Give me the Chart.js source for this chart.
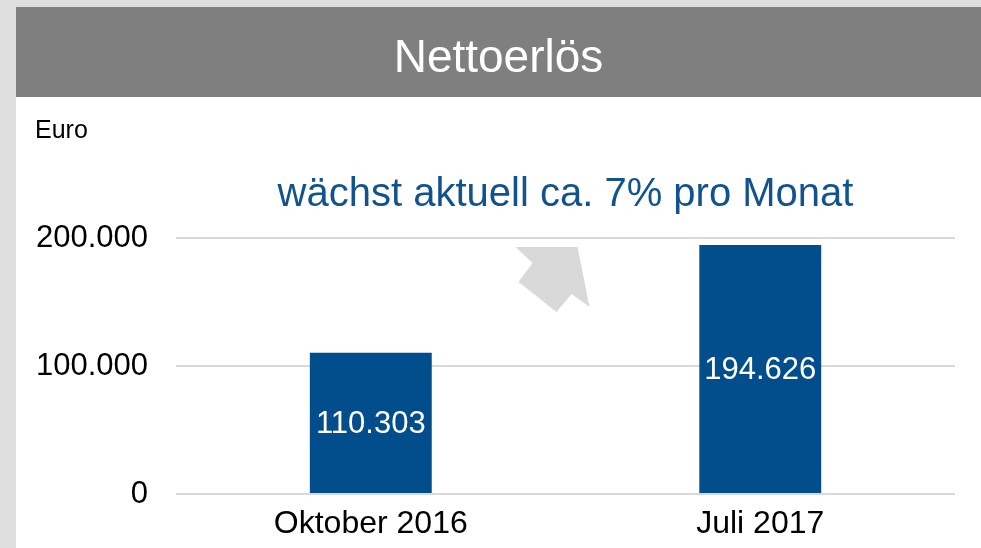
<!DOCTYPE html>
<html>
<head>
<meta charset="utf-8">
<script src="https://cdn.jsdelivr.net/npm/chart.js@4/dist/chart.umd.min.js"></script>
<style>
  html, body { margin: 0; padding: 0; background: #dedede; }
  #wrap { width: 981px; height: 548px; position: relative; }
</style>
</head>
<body>
<div id="wrap"><canvas id="c" width="981" height="548"></canvas></div>
<script>
// ---- data ----
const categories = ['Oktober 2016', 'Juli 2017'];
const revenue = [110303, 194626];
const yTicks = [0, 100000, 200000];
const TITLE = 'Nettoerlös';
const SUBTITLE = 'wächst aktuell ca. 7% pro Monat';
const UNIT = 'Euro';

const BLUE = '#024e8c';
const FONT = "'Liberation Sans', Arial, sans-serif";
const fmtDe = (v) => Math.round(v).toLocaleString('de-DE');

// frame: grey border, dark header band with title, white panel
const framePlugin = {
  id: 'frame',
  beforeDraw(chart) {
    const { ctx, width, height } = chart;
    ctx.save();
    ctx.fillStyle = '#dedede';
    ctx.fillRect(0, 0, width, height);
    ctx.fillStyle = '#ffffff';
    ctx.fillRect(16, 97, width - 16, height - 97);
    ctx.fillStyle = '#7f7f7f';
    ctx.fillRect(16, 7, width - 16, 90);
    ctx.fillStyle = '#ffffff';
    ctx.font = '46px ' + FONT;
    ctx.textAlign = 'center';
    ctx.textBaseline = 'middle';
    ctx.fillText(TITLE, (16 + width) / 2, 59);
    // unit label
    ctx.fillStyle = '#000';
    ctx.font = '25px ' + FONT;
    ctx.textAlign = 'left';
    ctx.fillText(UNIT, 35, 131);
    ctx.restore();
  },
  // growth arrow between the two bars
  beforeDatasetsDraw(chart) {
    const { ctx, scales: { x, y } } = chart;
    const mx = (x.getPixelForValue(0) + x.getPixelForValue(1)) / 2;
    const top = y.getPixelForValue(200000);
    const pts = [[-50, 9], [12, 9], [24, 69], [6, 56], [-9, 74], [-47, 44], [-33, 25]];
    ctx.save();
    ctx.fillStyle = '#d9d9d9';
    ctx.beginPath();
    pts.forEach(([dx, dy], i) => (i ? ctx.lineTo(mx + dx, top + dy) : ctx.moveTo(mx + dx, top + dy)));
    ctx.closePath();
    ctx.fill();
    ctx.restore();
  },
  // value labels inside bars
  afterDatasetsDraw(chart) {
    const { ctx } = chart;
    const meta = chart.getDatasetMeta(0);
    ctx.save();
    ctx.fillStyle = '#ffffff';
    ctx.font = '31px ' + FONT;
    ctx.textAlign = 'center';
    ctx.textBaseline = 'middle';
    meta.data.forEach((bar, i) => {
      ctx.fillText(fmtDe(revenue[i]), bar.x, (bar.y + bar.base) / 2 + 2);
    });
    ctx.restore();
  },
};

new Chart(document.getElementById('c'), {
  type: 'bar',
  data: {
    labels: categories,
    datasets: [{ data: revenue, backgroundColor: BLUE, categoryPercentage: 0.313, barPercentage: 1 }],
  },
  options: {
    responsive: false,
    animation: false,
    layout: { padding: { left: 8, right: 26, top: 0, bottom: -6 } },
    plugins: {
      legend: { display: false },
      tooltip: { enabled: false },
      title: { display: false },
      subtitle: {
        display: true, text: SUBTITLE, color: '#11528f', fullSize: false,
        font: { family: FONT, size: 40, weight: 'normal' },
        padding: { top: 171, bottom: 19 },
      },
    },
    scales: {
      x: {
        grid: { display: false, drawTicks: false },
        border: { display: false },
        ticks: { color: '#000', font: { family: FONT, size: 32, lineHeight: 1 }, padding: 14 },
      },
      y: {
        min: 0, max: 200000,
        afterBuildTicks: (s) => { s.ticks = yTicks.map((v) => ({ value: v })); },
        grid: { color: '#d9d9d9', lineWidth: 2, drawTicks: false },
        border: { display: false },
        ticks: { color: '#000', font: { family: FONT, size: 31 }, padding: 28, callback: (v) => fmtDe(v) },
      },
    },
  },
  plugins: [framePlugin],
});
</script>
</body>
</html>
